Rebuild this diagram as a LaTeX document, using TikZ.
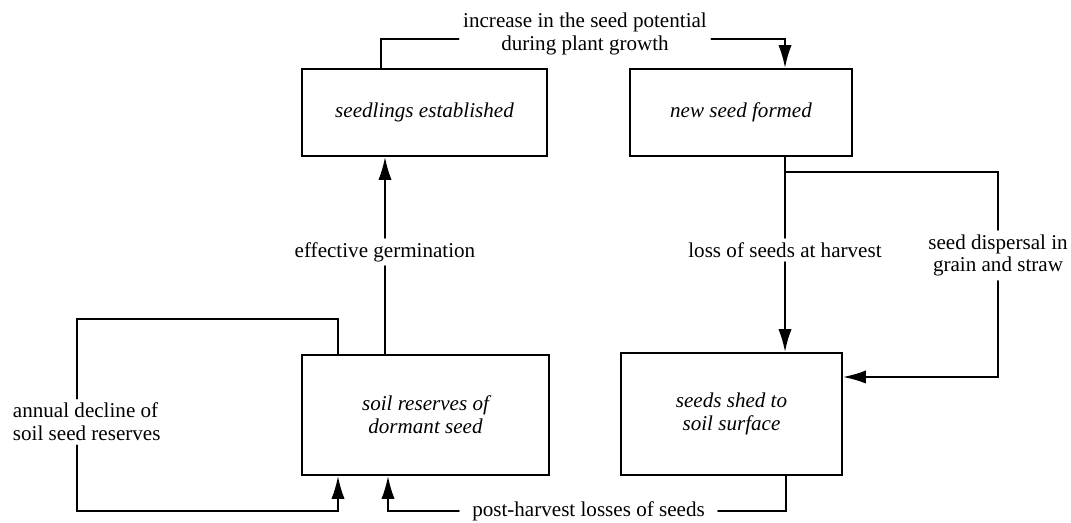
\documentclass[tikz,border=0pt]{standalone}
\usepackage{fontspec}
\setmainfont{Liberation Serif}
\usepackage{tikz}
\usetikzlibrary{arrows.meta}
\usetikzlibrary{positioning}
\tikzstyle{every node}=[font=\fontsize{12}{13}\selectfont]
\tikzstyle{every path}=[line width=1.1pt,line cap=round]
\tikzstyle{stage}=[draw,rectangle,align=center,font=\fontsize{12}{13}\selectfont\itshape]
\tikzstyle{lbl}=[inner sep=2pt,align=center]
\tikzstyle{flow}=[-{Latex[length=13pt,width=7.5pt]}]

\begin{document}
\begin{tikzpicture}
\useasboundingbox (0,0) rectangle (21.42,10.46);

% stages of the seed cycle
\node[stage,minimum width=4.9cm,minimum height=1.74cm] (seedlings) at (8.49,8.21) {seedlings established};
\node[stage,minimum width=4.44cm,minimum height=1.74cm] (newseed) at (14.82,8.21) {new seed formed};
\node[stage,minimum width=4.94cm,minimum height=2.4cm] (soil) at (8.51,2.16) {soil reserves of\\dormant seed};
\node[stage,minimum width=4.42cm,minimum height=2.44cm] (shed) at (14.63,2.18) {seeds shed to\\soil surface};

% labels on the connectors
\node[lbl] (potential) at (11.70,9.78) {increase in the seed potential\\during plant growth};
\node[lbl] (germination) at (7.70,5.42) {effective germination};
\node[lbl] (harvest) at (15.70,5.46) {loss of seeds at harvest};
\node[lbl] (dispersal) at (19.96,5.35) {seed dispersal in\\grain and straw};
\node[lbl,anchor=west,align=left] (decline) at (0.17,2.02) {annual decline of\\soil seed reserves};
\node[lbl,inner xsep=7pt] (postharvest) at (11.77,0.24) {post-harvest losses of seeds};

\coordinate (topleft) at (7.62,9.68);
\coordinate (topright) at (15.70,9.68);
\coordinate (fork) at (15.70,7.02);
\coordinate (forkright) at (19.96,7.02);
\coordinate (dispend) at (19.96,2.92);
\coordinate (loopup) at (6.76,4.08);
\coordinate (loopleft) at (1.54,4.08);
\coordinate (loopdown) at (1.54,0.24);
\coordinate (shedout) at (15.72,0.24);
\coordinate (postin) at (7.76,0.24);

\draw (seedlings.north -| topleft) -- (topleft) -- (topleft -| potential.west);
\draw[flow] (topright -| potential.east) -- (topright) -- (newseed.north -| topright);
\draw (soil.north -| germination) -- (germination.south);
\draw[flow] (germination.north) -- (seedlings.south -| germination);
\draw (newseed.south -| harvest) -- (harvest.north);
\draw[flow] (harvest.south) -- (shed.north -| harvest);
\draw (fork) -- (forkright) -- (dispersal.north);
\draw[flow] (dispersal.south) -- (dispend) -- (dispend -| shed.east);
\draw (soil.north -| loopup) -- (loopup) -- (loopleft) -- (decline.north -| loopleft);
\draw[flow] (decline.south -| loopleft) -- (loopdown) -- (loopdown -| loopup) -- (soil.south -| loopup);
\draw (shed.south -| shedout) -- (shedout) -- (postharvest.east);
\draw[flow] (postharvest.west) -- (postin) -- (soil.south -| postin);
\end{tikzpicture}
\end{document}
